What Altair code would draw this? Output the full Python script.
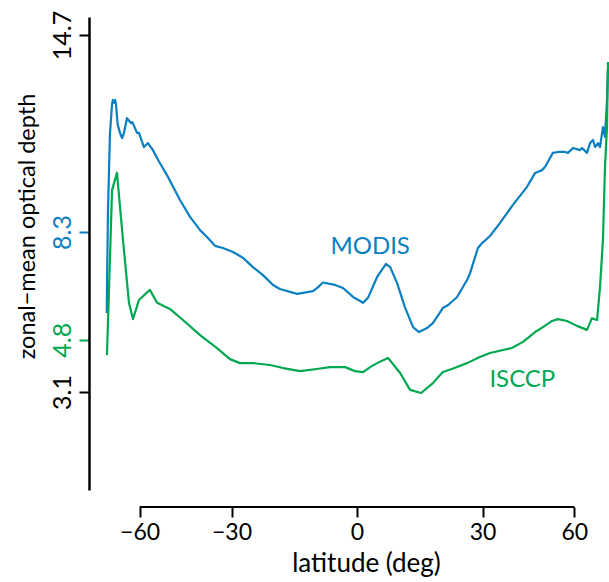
import altair as alt
import numpy as np
import pandas as pd

# ---- data ----
modis_lat = [-85.5, -85.0, -82.8, -79.8, -77.4, -76.5, -75.5, -74.5, -73.8, -72.5,
             -70.8, -69.4, -68.3, -66.4, -65.0, -64.2, -63.5, -61.2, -60.3, -58.1,
             -56.4, -54.4, -52.4, -48.85, -44.85, -41.7, -38.7, -36.7, -34.45, -32.3,
             -29.6, -27.8, -27.0, -24.5, -22.0, -19.55, -17.9, -13.8, -10.1, -8.9,
             -7.8, -5.0, -3.2, -0.9, 1.4, 2.5, 4.6, 6.6, 7.6, 9.2,
             11.0, 12.9, 14.3, 16.2, 17.6, 20.0, 21.3, 23.5, 26.0, 26.8,
             28.8, 29.9, 32.0, 34.7, 38.4, 42.6, 45.2, 47.5, 48.5, 51.3,
             53.2, 56.0, 57.2, 59.4, 62.7, 63.7, 66.4, 68.2, 70.1, 71.5,
             73.8, 75.5, 78.5, 81.1, 84.9, 88.0]
modis_val = [5.67, 6.35, 9.0, 11.5, 12.45, 12.59, 12.5, 12.59, 12.45, 11.8,
             11.52, 11.35, 11.5, 12.0, 11.9, 11.84, 11.87, 11.52, 11.52, 11.06,
             11.19, 10.96, 10.64, 10.09, 9.34, 8.79, 8.36, 8.14, 7.85, 7.78,
             7.65, 7.52, 7.46, 7.16, 6.90, 6.58, 6.45, 6.29, 6.38, 6.51,
             6.66, 6.58, 6.48, 6.19, 6.0, 6.16, 6.84, 7.26, 7.16, 6.64,
             5.86, 5.21, 5.05, 5.18, 5.34, 5.83, 5.93, 6.19, 6.74, 6.97,
             7.78, 7.94, 8.17, 8.59, 9.18, 9.76, 10.22, 10.31, 10.41, 10.87,
             10.9, 10.9, 10.87, 11.03, 10.96, 11.03, 10.87, 11.19, 11.29, 11.06,
             11.19, 11.06, 11.71, 11.39, 12.59, 13.56]

isccp_lat = [-84.9, -77.4, -73.0, -68.8, -65.3, -63.2, -60.3, -55.6, -52.8, -48.2,
             -43.9, -38.7, -33.9, -30.4, -27.8, -24.5, -20.3, -17.1, -13.1, -9.2,
             -6.2, -2.7, -0.5, 1.4, 3.0, 4.6, 7.1, 9.9, 12.2, 14.8,
             17.6, 20.0, 22.2, 26.0, 29.3, 32.0, 38.1, 41.4, 45.2, 47.8,
             51.0, 53.2, 56.8, 61.2, 66.4, 69.4, 73.0, 75.5, 78.5, 81.1,
             84.9, 89.5]
isccp_val = [4.30, 9.66, 10.22, 8.04, 6.0, 5.47, 6.09, 6.42, 6.0, 5.8,
             5.44, 4.95, 4.53, 4.17, 4.04, 4.04, 3.98, 3.88, 3.78, 3.85,
             3.91, 3.91, 3.78, 3.75, 3.91, 4.04, 4.21, 3.72, 3.17, 3.07,
             3.39, 3.75, 3.85, 4.04, 4.24, 4.37, 4.53, 4.73, 5.05, 5.21,
             5.41, 5.47, 5.41, 5.25, 5.12, 5.5, 5.44, 6.51, 8.04, 10.41,
             11.71, 13.82]

x_ticks_deg = [-60, -30, 0, 30, 60]
y_ticks = [3.1, 4.8, 8.3, 14.7]

series_names = ["MODIS", "ISCCP"]
label_lat = [3.0, 41.2]
label_val = [7.585, 3.264]

BLUE = "#0a7fc1"
GREEN = "#00a84f"
FONT = "Lato"

modis = pd.DataFrame({"lat": modis_lat, "val": modis_val, "idx": range(len(modis_lat))})
isccp = pd.DataFrame({"lat": isccp_lat, "val": isccp_val, "idx": range(len(isccp_lat))})
labels = pd.DataFrame({"name": series_names, "lat": label_lat, "val": label_val})
frame = pd.DataFrame({"lo": [x_ticks_deg[0]], "hi": [x_ticks_deg[-1]]})

tick_sin = [float(np.sin(np.deg2rad(d))) for d in x_ticks_deg]

xscale = alt.Scale(domain=[-1, 1], nice=False, zero=False)
yscale = alt.Scale(domain=[-0.082, 15.285], nice=False, zero=False)

xaxis = alt.Axis(
    values=tick_sin,
    labelExpr="(datum.value < -0.01 ? '\u2212' : '') + format(abs(round(asin(datum.value) * 180 / PI)), 'd')",
    domain=False, grid=False, offset=17,
    tickSize=10, tickWidth=2, tickColor="black",
    labelFont=FONT, labelFontSize=23, labelColor="black", labelPadding=4,
    title="latitude (deg)", titleFont=FONT, titleFontSize=26, titleFontWeight="normal",
    titleColor="black", titleX=260, titleY=64, titleBaseline="alphabetic", titleAnchor="middle",
    labelFlush=False,
)
yaxis = alt.Axis(
    values=y_ticks, format=".1f",
    domain=True, domainColor="black", domainWidth=2.5, grid=False, offset=17,
    tickSize=10, tickWidth=2,
    tickColor={"expr": f"datum.value == 8.3 ? '{BLUE}' : (datum.value == 4.8 ? '{GREEN}' : 'black')"},
    labelColor={"expr": f"datum.value == 8.3 ? '{BLUE}' : (datum.value == 4.8 ? '{GREEN}' : 'black')"},
    labelFont=FONT, labelFontSize=25, labelAngle=270, labelAlign="center",
    labelBaseline="alphabetic", labelPadding=9,
    title="zonal\u2212mean optical depth", titleFont=FONT, titleFontSize=23.5,
    titleFontWeight="normal", titleColor="black", titleAngle=270,
    titleX=-55, titleY=209, titleAlign="center", titleBaseline="alphabetic",
)

def line(df, color):
    return alt.Chart(df).transform_calculate(
        s="sin(datum.lat * PI / 180)"
    ).mark_line(color=color, strokeWidth=2.2, strokeJoin="round").encode(
        x=alt.X("s:Q", scale=xscale, axis=xaxis),
        y=alt.Y("val:Q", scale=yscale, axis=yaxis),
        order="idx:Q",
    )

frame_rule = alt.Chart(frame).transform_calculate(
    a="sin(datum.lo * PI / 180)", b="sin(datum.hi * PI / 180)"
).mark_rule(color="black", strokeWidth=2).encode(
    x=alt.X("a:Q", scale=xscale), x2="b:Q", y=alt.value(490)
)

text = alt.Chart(labels).transform_calculate(
    s="sin(datum.lat * PI / 180)"
).mark_text(font=FONT, fontSize=24, align="center", baseline="alphabetic").encode(
    x=alt.X("s:Q", scale=xscale),
    y=alt.Y("val:Q", scale=yscale),
    text="name:N",
    color=alt.Color("name:N", scale=alt.Scale(domain=series_names, range=[BLUE, GREEN]), legend=None),
)

chart = alt.layer(line(modis, BLUE), line(isccp, GREEN), frame_rule, text).properties(
    width=502, height=473,
    autosize=alt.AutoSizeParams(type="none"),
    padding={"left": 106, "top": 17, "right": 1, "bottom": 92},
    background="white",
).configure_view(stroke=None)

chart.save("out.html", embed_options={"renderer": "svg", "actions": False})
